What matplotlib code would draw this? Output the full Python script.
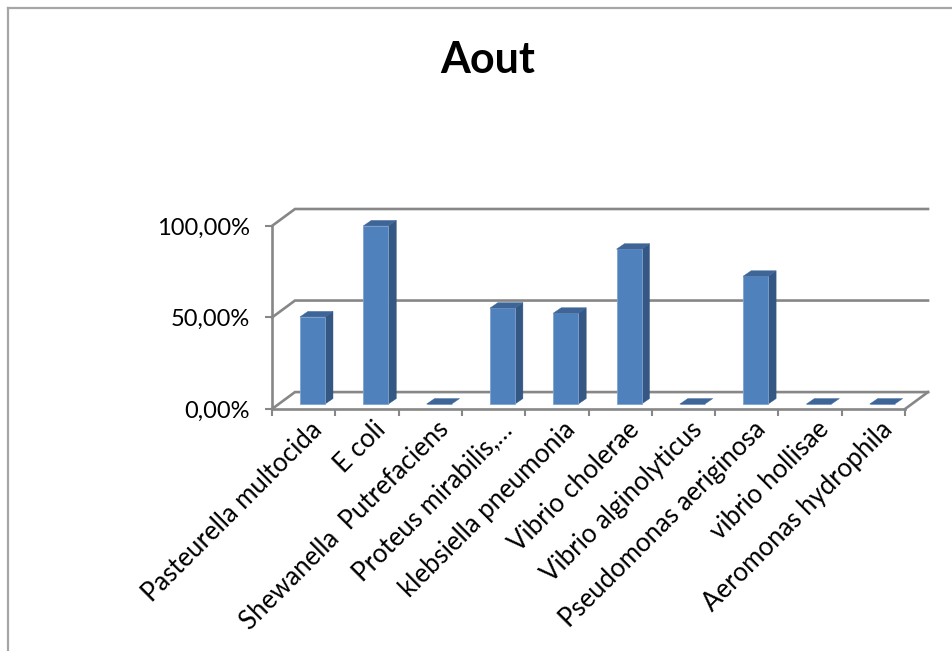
import matplotlib
matplotlib.use("Agg")
import matplotlib.pyplot as plt
from matplotlib.patches import Polygon
from matplotlib.lines import Line2D
from matplotlib.transforms import ScaledTranslation
import numpy as np

plt.rcParams['font.family'] = ['Lato', 'DejaVu Sans']

# ---- data ----
title = "Aout"
categories = [
    "Pasteurella multocida",
    "E coli",
    "Shewanella  Putrefaciens",
    "Proteus mirabilis,\u2026",
    "klebsiella pneumonia",
    "Vibrio cholerae",
    "Vibrio alginolyticus",
    "Pseudomonas aeriginosa",
    "vibrio hollisae",
    "Aeromonas hydrophila",
]
values = [0.476, 0.973, 0.0, 0.524, 0.496, 0.846, 0.0, 0.698, 0.0, 0.0]
y_ticks = [0.0, 0.5, 1.0]
y_tick_labels = ["0,00%", "50,00%", "100,00%"]

# ---- style ----
FRONT = "#4F81BD"
SIDE = "#345783"
TOP = "#3D6598"
GRID = "#878787"

W, H, DPI = 9.52, 6.51, 100
fig = plt.figure(figsize=(W, H), dpi=DPI)

# oblique depth offsets (data units)
WALL_DX, WALL_DY = 0.363, 0.0924   # back wall relative to front plane
BAR_DX, BAR_DY = 0.14, 0.027       # bar front plane relative to front plane
BAR_W = 0.395
TD_X, TD_Y = 0.126, 0.030          # depth of each column

n = len(categories)
ax = fig.add_axes([272 / 952, 1 - 409 / 651, (928 - 272) / 952, (409 - 209) / 651])
ax.set_xlim(0, n + WALL_DX)
ax.set_ylim(0, 1 + WALL_DY)
ax.patch.set_visible(False)

# walls: gridlines on the back wall with the diagonal on the left side
for yv in y_ticks:
    ax.add_line(Line2D([0, WALL_DX, n + WALL_DX], [yv, yv + WALL_DY, yv + WALL_DY],
                       color=GRID, lw=1.9, clip_on=False, zorder=1,
                       solid_joinstyle='miter'))
# floor right edge
ax.add_line(Line2D([n + WALL_DX, n], [WALL_DY, 0], color=GRID, lw=1.9,
                   clip_on=False, zorder=1))

# spines as the front axes
for s in ("top", "right"):
    ax.spines[s].set_visible(False)
ax.spines["left"].set_bounds(0, 1)
ax.spines["bottom"].set_bounds(0, n)
for s in ("left", "bottom"):
    ax.spines[s].set_color(GRID)
    ax.spines[s].set_linewidth(1.9)
    ax.spines[s].set_zorder(2)

# columns
centers = np.arange(n) + 0.5
lefts = centers + BAR_DX - BAR_W / 2
ax.bar(lefts, values, width=BAR_W, bottom=BAR_DY, align='edge', color=FRONT,
       edgecolor="#7FA3D0", linewidth=0.6, zorder=4, clip_on=False)
for xl, v in zip(lefts, values):
    xr = xl + BAR_W
    bot = BAR_DY
    top = BAR_DY + v
    if v > 0:
        ax.add_patch(Polygon([(xr, bot), (xr, top), (xr + TD_X, top + TD_Y),
                              (xr + TD_X, bot + TD_Y)], closed=True,
                             facecolor=SIDE, edgecolor=SIDE, lw=0.3,
                             zorder=3, clip_on=False))
    ax.add_patch(Polygon([(xl, top), (xl + TD_X, top + TD_Y),
                          (xr + TD_X, top + TD_Y), (xr, top)], closed=True,
                         facecolor=TOP, edgecolor=TOP, lw=0.3,
                         zorder=5, clip_on=False))

# y axis ticks
ax.set_yticks(y_ticks)
ax.set_yticklabels(y_tick_labels)
ax.tick_params(axis='y', length=5, width=1.5, color=GRID, pad=11,
               labelsize=17, labelcolor='black')

# x axis: boundary ticks (minor) and centred labels (major)
ax.set_xticks(np.arange(n + 1), minor=True)
ax.set_xticks(centers)
ax.set_xticklabels(categories, rotation=45, ha='right', va='center',
                   rotation_mode='anchor')
ax.tick_params(axis='x', which='minor', length=5, width=1.5, color=GRID)
ax.tick_params(axis='x', which='major', length=0, pad=12, labelsize=18.5,
               labelcolor='black')
shift = ScaledTranslation(15 / DPI, 0, fig.dpi_scale_trans)
for lab in ax.get_xticklabels():
    lab.set_transform(lab.get_transform() + shift)

# title
fig.text(488 / 952, 1 - 73 / 651, title, ha='center', va='baseline',
         fontsize=31, fontweight='bold', color='black')

# chart area border (top and left edges)
fig.add_artist(Line2D([7.5 / 952, 1], [1 - 8 / 651, 1 - 8 / 651],
                      transform=fig.transFigure, color="#A6A6A6", lw=1.6))
fig.add_artist(Line2D([7.5 / 952, 7.5 / 952], [0, 1 - 8 / 651],
                      transform=fig.transFigure, color="#A6A6A6", lw=1.6))

fig.savefig("out.png", dpi=DPI, facecolor='white')
